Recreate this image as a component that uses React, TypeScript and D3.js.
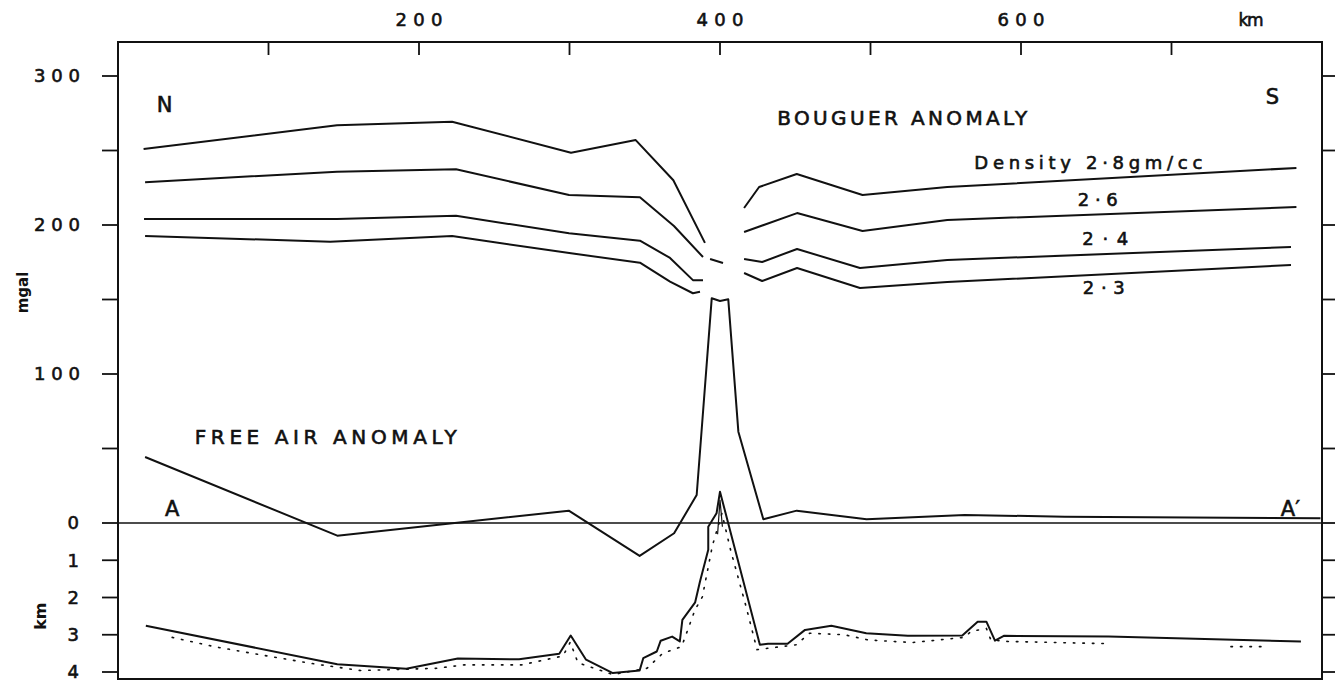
import React from 'react';
import * as d3 from 'd3';

const W = 1335;
const H = 687;
const FONT = '"DejaVu Sans", Verdana, sans-serif';

// axis ticks
const topTicks = [100, 200, 300, 400, 500, 600, 700];
const topLabels = [200, 400, 600];
const mgalTicks = [0, 50, 100, 150, 200, 250, 300];
const mgalLabels = [100, 200, 300];
const depthTicks = [1, 2, 3, 4];
const depthLabels = [0, 1, 2, 3, 4];

type P = [number, number] | null;

// Bouguer anomaly (km, mgal) for the four densities, null = break in the line
const bouguer28: P[] = [[17, 251], [145.5, 267], [222, 269.3], [301, 248.5], [344, 257], [369, 230], [390, 188], null,
  [416, 211.4], [426, 225.5], [451, 234.2], [494.7, 220.1], [551, 225.5], [783, 238.3]];
const bouguer26: P[] = [[18, 228.7], [145.5, 235.8], [224.6, 237.4], [299.7, 220.1], [346.8, 218.6], [369.4, 199.3], [388.7, 178.5], null,
  [393.4, 177.2], [402, 174.5], null,
  [416, 195.3], [451.2, 208], [494.7, 196], [551, 203.4], [783, 212]];
const bouguer24: P[] = [[17.3, 204], [145.5, 204], [224.6, 206.2], [299.7, 194.4], [346.8, 189.5], [366.8, 177.9], [382, 163], [388.7, 163], null,
  [416, 177.2], [428, 175.2], [451.2, 183.9], [493, 171.1], [551, 176.5], [779.4, 185.2]];
const bouguer23: P[] = [[18, 192.6], [141, 188.8], [222, 192.6], [301, 181], [346.8, 174.7], [366.8, 162], [382, 154.2], [386.7, 155.2], null,
  [416, 167.8], [428, 162.4], [451.2, 171.1], [493, 157.7], [551, 161.7], [779.4, 173.2]];

// free air anomaly (km, mgal)
const freeAir: P[] = [[18, 44.3], [145.7, -8.5], [299.5, 8.3], [346.6, -22.1], [369.5, -6.9], [384.5, 18.8], [394.5, 150.8],
  [400, 149], [405.5, 150.1], [412.2, 61.3], [428.8, 2.5], [451, 8.3], [497.4, 2.5], [562.6, 5.4], [629, 4.2], [799, 3.2]];

// sea floor depth (km, km)
const seaFloor: P[] = [[18.5, 2.76], [145.7, 3.79], [191.5, 3.91], [225.8, 3.64], [266.5, 3.66], [293.2, 3.51], [300.8, 3.02],
  [311, 3.67], [328.8, 4.03], [346.6, 3.96], [349, 3.63], [358, 3.45], [360.6, 3.16], [368.2, 3.05], [373.3, 3.18],
  [375, 2.6], [383.5, 2.13], [386.7, 1.57], [392.2, 0.72], [392.2, 0.1], [397.7, -0.26], [400, -0.84], [426.5, 3.27],
  [431.9, 3.24], [444.9, 3.24], [456.5, 2.87], [474, 2.76], [497.2, 2.96], [524.8, 3.03], [561, 3.02], [571.2, 2.65],
  [577, 2.65], [582.7, 3.16], [588.6, 3.03], [658.3, 3.05], [786, 3.18]];

// small inner line of the island
const islandInner: P[] = [[398.4, 0.3], [400, -0.62], [401.6, 0.1]];

// dotted basement below the sea floor
const basement: P[] = [[36, 3.07], [64, 3.32], [95, 3.54], [130, 3.78], [161, 3.96], [212, 3.9], [229.6, 3.81], [268, 3.81],
  [295.7, 3.57], [300.5, 3.2], [305.6, 3.75], [328.8, 4.07], [351.5, 3.9], [361.9, 3.5], [374.5, 3.32], [383.4, 2.33],
  [388.3, 1.98], [395, 0.6], [401.3, -0.26], [407, 0.72], [417.3, 2.24], [424.6, 3.4], [450.5, 3.27], [459.5, 2.96],
  [482.6, 3.0], [498.6, 3.14], [527.6, 3.21], [562.5, 3.07], [566.8, 2.91], [577, 2.83], [580, 3.14], [591.4, 3.18],
  [658.3, 3.24], null, [739.5, 3.32], [764, 3.32]];

// annotations (km, mgal)
const notes = [
  { t: 'N', x: 31, y: 281, anchor: 'middle', len: 0, size: 21 },
  { t: 'S', x: 767, y: 286, anchor: 'middle', len: 0, size: 21 },
  { t: 'BOUGUER ANOMALY', x: 438, y: 272, anchor: 'start', len: 250, size: 20 },
  { t: 'Density 2·8gm/cc', x: 569, y: 242, anchor: 'start', len: 228, size: 18 },
  { t: '2·6', x: 651, y: 217, anchor: 'middle', len: 40, size: 18 },
  { t: '2·4', x: 656, y: 191, anchor: 'middle', len: 46, size: 18 },
  { t: '2·3', x: 655, y: 158, anchor: 'middle', len: 42, size: 18 },
  { t: 'FREE AIR ANOMALY', x: 51, y: 58, anchor: 'start', len: 262, size: 20 },
  { t: 'A', x: 36, y: 9.5, anchor: 'middle', len: 0, size: 21 },
  { t: 'A′', x: 779, y: 10, anchor: 'middle', len: 0, size: 21 },
];

export default function App() {
  const x = d3.scaleLinear().domain([0, 800]).range([118, 1322]);
  const yG = d3.scaleLinear().domain([0, 300]).range([523, 76]);
  const yD = d3.scaleLinear().domain([0, 4]).range([523, 672]);
  const top = 42;
  const bottom = 679;

  const gLine = d3.line<P>()
    .defined(d => d !== null)
    .x(d => x(d![0]))
    .y(d => yG(d![1]));
  const dLine = d3.line<P>()
    .defined(d => d !== null)
    .x(d => x(d![0]))
    .y(d => yD(d![1]));

  const stroke = '#111';
  const bouguer = [bouguer28, bouguer26, bouguer24, bouguer23];
  // a thin outline on the lettering makes it look drawn with a pen
  const ink = { stroke, strokeWidth: 0.6 };

  return (
    <svg width={W} height={H} style={{ position: 'absolute', left: 0, top: 0, background: '#fff' }}
      fontFamily={FONT} fill={stroke}>
      {/* frame */}
      <rect x={x(0)} y={top} width={x(800) - x(0)} height={bottom - top} fill="none" stroke={stroke} strokeWidth={2} />

      {/* top axis */}
      {topTicks.map(t => (
        <line key={'tt' + t} x1={x(t)} x2={x(t)} y1={top} y2={top + 13} stroke={stroke} strokeWidth={1.8} />
      ))}
      {topLabels.map(t => (
        <text key={'tl' + t} x={x(t)} y={26} textAnchor="middle" fontSize={18} textLength={47} {...ink}>{t}</text>
      ))}
      <text x={1251} y={26} textAnchor="middle" fontSize={17} textLength={25} {...ink}>km</text>

      {/* left / right ticks */}
      {mgalTicks.map(t => (
        <g key={'mg' + t}>
          <line x1={x(0) - 16} x2={x(0)} y1={yG(t)} y2={yG(t)} stroke={stroke} strokeWidth={1.8} />
          <line x1={x(800)} x2={W} y1={yG(t)} y2={yG(t)} stroke={stroke} strokeWidth={1.8} />
        </g>
      ))}
      {depthTicks.map(t => (
        <g key={'dp' + t}>
          <line x1={x(0) - 16} x2={x(0)} y1={yD(t)} y2={yD(t)} stroke={stroke} strokeWidth={1.8} />
          <line x1={x(800)} x2={W} y1={yD(t)} y2={yD(t)} stroke={stroke} strokeWidth={1.8} />
        </g>
      ))}
      {mgalLabels.map(t => (
        <text key={'ml' + t} x={80} y={yG(t)} dy="0.36em" textAnchor="end" fontSize={18} textLength={46} {...ink}>{t}</text>
      ))}
      {depthLabels.map(t => (
        <text key={'dl' + t} x={79} y={yD(t)} dy="0.36em" textAnchor="end" fontSize={18} {...ink}>{t}</text>
      ))}
      <text transform={`translate(28,${yG(150) - 7}) rotate(-90)`} textAnchor="middle" fontSize={15} fontWeight="bold">mgal</text>
      <text transform={`translate(46,${(yD(2) + yD(3)) / 2}) rotate(-90)`} textAnchor="middle" fontSize={16} fontWeight="bold">km</text>

      {/* zero line A - A' */}
      <line x1={x(0)} x2={x(800)} y1={yG(0)} y2={yG(0)} stroke={stroke} strokeWidth={1.5} />

      {/* Bouguer anomaly curves */}
      {bouguer.map((s, i) => (
        <path key={'b' + i} d={gLine(s) || ''} fill="none" stroke={stroke} strokeWidth={2} strokeLinejoin="round" />
      ))}

      {/* free air anomaly */}
      <path d={gLine(freeAir) || ''} fill="none" stroke={stroke} strokeWidth={2} strokeLinejoin="round" />

      {/* sea floor and dotted basement */}
      <path d={dLine(seaFloor) || ''} fill="none" stroke={stroke} strokeWidth={2} strokeLinejoin="round" />
      <path d={dLine(islandInner) || ''} fill="none" stroke={stroke} strokeWidth={1.2} />
      <path d={dLine(basement) || ''} fill="none" stroke={stroke} strokeWidth={1.6} strokeDasharray="1.5 8" strokeLinecap="round" />

      {/* annotations */}
      {notes.map(n => (
        <text key={n.t} x={x(n.x)} y={yG(n.y)} dy="0.36em" textAnchor={n.anchor} fontSize={n.size} {...ink}
          {...(n.len ? { textLength: n.len, lengthAdjust: 'spacing' } : {})}>{n.t}</text>
      ))}
    </svg>
  );
}
